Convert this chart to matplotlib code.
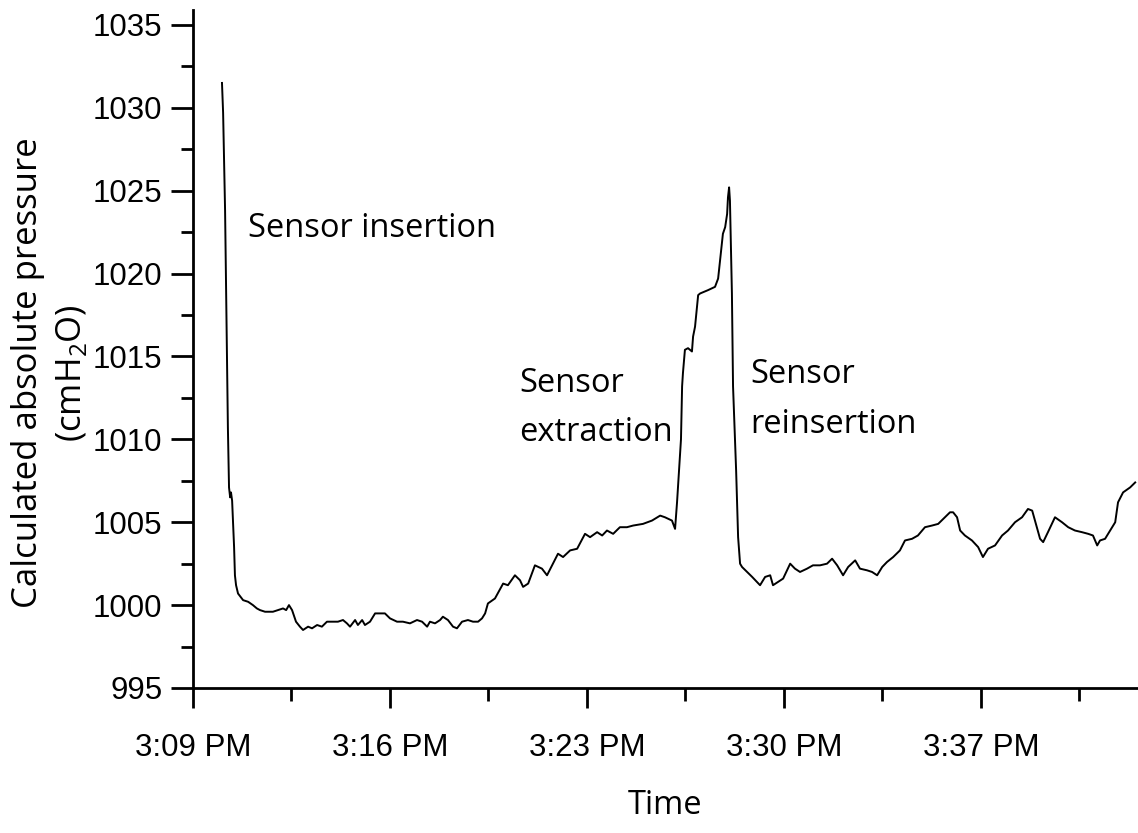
import matplotlib
matplotlib.use("Agg")
import matplotlib.pyplot as plt
from matplotlib.ticker import MultipleLocator, FuncFormatter

# minutes after 3:09 PM, calculated absolute pressure (cmH2O)
minutes = [
    1.03, 1.07, 1.14, 1.24, 1.28, 1.32, 1.35, 1.39, 1.46, 1.49,
    1.53, 1.60, 1.78, 1.96, 2.13, 2.27, 2.38, 2.56, 2.84, 3.02,
    3.20, 3.31, 3.41, 3.52, 3.66, 3.80, 3.91, 4.09, 4.23, 4.41,
    4.58, 4.76, 4.98, 5.15, 5.33, 5.47, 5.58, 5.76, 5.86, 6.01,
    6.11, 6.29, 6.47, 6.65, 6.82, 7.00, 7.25, 7.46, 7.71, 7.96,
    8.14, 8.32, 8.42, 8.60, 8.78, 8.88, 9.06, 9.24, 9.38, 9.56,
    9.77, 9.95, 10.13, 10.27, 10.38, 10.48, 10.73, 11.02, 11.19, 11.44,
    11.62, 11.73, 11.91, 12.15, 12.40, 12.58, 12.76, 12.97, 13.15, 13.40,
    13.65, 13.93, 14.11, 14.36, 14.54, 14.71, 14.93, 15.17, 15.42, 15.64,
    15.99, 16.31, 16.60, 16.77, 17.02, 17.13, 17.20, 17.27, 17.34, 17.38,
    17.41, 17.48, 17.59, 17.73, 17.77, 17.84, 17.95, 18.02, 18.30, 18.55,
    18.66, 18.73, 18.83, 18.91, 18.98, 19.01, 19.05, 19.08, 19.15, 19.19,
    19.30, 19.37, 19.44, 19.51, 19.69, 19.87, 20.04, 20.15, 20.33, 20.51,
    20.61, 20.79, 20.97, 21.22, 21.39, 21.57, 21.82, 22.03, 22.28, 22.53,
    22.71, 22.89, 23.10, 23.28, 23.53, 23.70, 23.95, 24.13, 24.31, 24.49,
    24.66, 24.88, 25.12, 25.30, 25.55, 25.76, 26.01, 26.26, 26.48, 26.72,
    26.90, 27.01, 27.15, 27.26, 27.43, 27.68, 27.90, 28.07, 28.25, 28.50,
    28.75, 28.96, 29.21, 29.46, 29.67, 29.82, 29.92, 30.10, 30.21, 30.38,
    30.63, 30.88, 31.10, 31.34, 31.59, 31.81, 31.98, 32.13, 32.23, 32.41,
    32.59, 32.77, 32.87, 33.05, 33.30, 33.48,
]
pressure = [
    1031.5, 1029.7, 1023.8, 1010.7, 1007.1, 1006.5, 1006.8, 1006.3, 1003.5, 1001.8,
    1001.2, 1000.7, 1000.3, 1000.2, 1000.0, 999.8, 999.7, 999.6, 999.6, 999.7,
    999.8, 999.7, 1000.0, 999.7, 999.0, 998.7, 998.5, 998.7, 998.6, 998.8,
    998.7, 999.0, 999.0, 999.0, 999.1, 998.9, 998.7, 999.1, 998.8, 999.1,
    998.8, 999.0, 999.5, 999.5, 999.5, 999.2, 999.0, 999.0, 998.9, 999.1,
    999.0, 998.7, 999.0, 998.9, 999.1, 999.3, 999.1, 998.7, 998.6, 999.0,
    999.1, 999.0, 999.0, 999.2, 999.5, 1000.1, 1000.4, 1001.3, 1001.2, 1001.8,
    1001.5, 1001.1, 1001.3, 1002.4, 1002.2, 1001.8, 1002.4, 1003.1, 1002.9, 1003.3,
    1003.4, 1004.3, 1004.1, 1004.4, 1004.2, 1004.5, 1004.3, 1004.7, 1004.7, 1004.8,
    1004.9, 1005.1, 1005.4, 1005.3, 1005.1, 1004.6, 1006.2, 1008.1, 1010.0, 1013.2,
    1014.0, 1015.4, 1015.5, 1015.3, 1016.2, 1016.8, 1018.7, 1018.8, 1019.0, 1019.2,
    1019.7, 1020.8, 1022.4, 1022.8, 1023.6, 1024.6, 1025.2, 1024.4, 1018.8, 1013.2,
    1008.1, 1004.1, 1002.5, 1002.3, 1002.0, 1001.7, 1001.4, 1001.2, 1001.7, 1001.8,
    1001.2, 1001.4, 1001.6, 1002.5, 1002.2, 1002.0, 1002.2, 1002.4, 1002.4, 1002.5,
    1002.8, 1002.4, 1001.8, 1002.3, 1002.7, 1002.2, 1002.1, 1002.0, 1001.8, 1002.3,
    1002.6, 1002.9, 1003.3, 1003.9, 1004.0, 1004.2, 1004.7, 1004.8, 1004.9, 1005.3,
    1005.6, 1005.6, 1005.3, 1004.5, 1004.2, 1003.9, 1003.5, 1002.9, 1003.4, 1003.6,
    1004.2, 1004.5, 1005.0, 1005.3, 1005.8, 1005.7, 1005.1, 1004.0, 1003.8, 1004.4,
    1005.3, 1005.0, 1004.7, 1004.5, 1004.4, 1004.3, 1004.2, 1003.6, 1003.9, 1004.0,
    1004.5, 1005.0, 1006.2, 1006.8, 1007.1, 1007.4,
]

notes = ["Sensor insertion", "Sensor\nextraction", "Sensor\nreinsertion"]
note_t = [1.95, 11.58, 19.79]
note_p = [1022.7, 1011.9, 1012.4]

tick_font = ["Liberation Sans", "DejaVu Sans"]
text_font = ["Open Sans", "DejaVu Sans"]
plt.rcParams["mathtext.fontset"] = "custom"
plt.rcParams["mathtext.rm"] = "Open Sans"

fig = plt.figure(figsize=(11.38, 8.33), dpi=100)
ax = fig.add_axes([193 / 1138, 1 - 688 / 833, 945 / 1138, 678 / 833])

ax.plot(minutes, pressure, color="black", lw=1.4)

ax.set_xlim(0, 33.58)
ax.set_ylim(995, 1035.9)
for side in ("top", "right"):
    ax.spines[side].set_visible(False)
for side in ("left", "bottom"):
    ax.spines[side].set_linewidth(2)

ax.yaxis.set_major_locator(MultipleLocator(5))
ax.yaxis.set_minor_locator(MultipleLocator(2.5))
ax.xaxis.set_major_locator(MultipleLocator(7))
ax.xaxis.set_minor_locator(MultipleLocator(3.5))
ax.xaxis.set_major_formatter(FuncFormatter(lambda v, pos: f"3:{9 + int(round(v)):02d} PM"))

ax.tick_params(axis="y", which="major", length=16, width=2, pad=6)
ax.tick_params(axis="y", which="minor", length=9, width=2)
ax.tick_params(axis="x", which="major", length=14.5, width=2, pad=18)
ax.tick_params(axis="x", which="minor", length=9.5, width=2)
for lab in ax.get_xticklabels() + ax.get_yticklabels():
    lab.set_family(tick_font)
    lab.set_fontsize(22.5)

for s, t, p in zip(notes, note_t, note_p):
    ax.text(t, p, s, family=text_font, fontsize=23.5, ha="left", va="center",
            linespacing=1.65)

fig.text(50 / 1138, 1 - 373 / 833, "Calculated absolute pressure\n(cmH$_{2}$O)",
         family=text_font, fontsize=25, rotation=90, ha="center", va="center",
         multialignment="center", linespacing=1.3)
fig.text(665 / 1138, 1 - 806 / 833, "Time", family=text_font, fontsize=23.5,
         ha="center", va="center")

fig.savefig("out.png", dpi=100)
